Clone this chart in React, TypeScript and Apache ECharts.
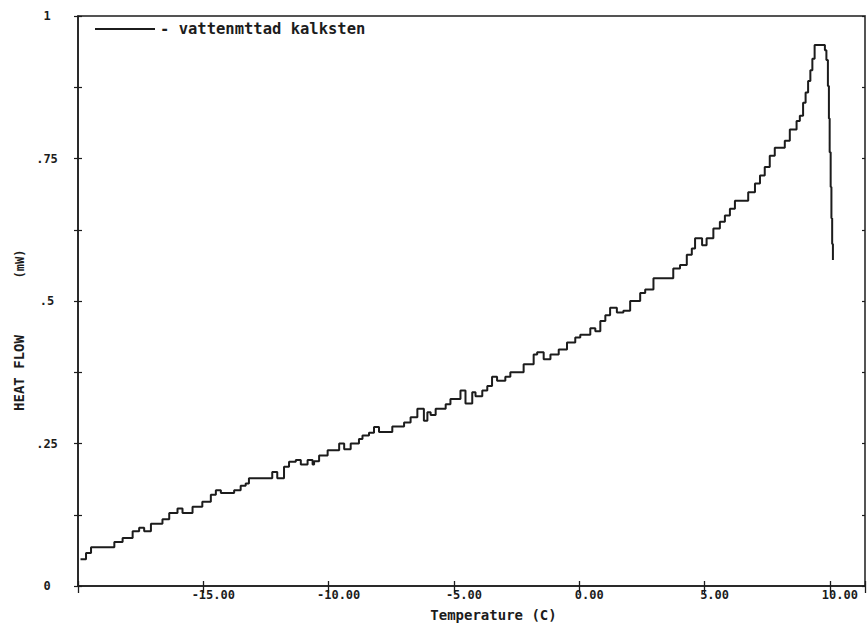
import React, { useEffect, useRef } from "react";
import * as echarts from "echarts";

// Step positions (°C) and the heat-flow level (mW) reached at each step
const tempC = [
  -19.9, -19.68, -19.48, -18.55, -18.22, -17.82, -17.56, -17.36, -17.09, -16.63,
  -16.36, -16.03, -15.83, -15.43, -15.04, -14.7, -14.5, -14.3, -13.77, -13.51,
  -13.31, -13.18, -12.25, -12.05, -11.78, -11.58, -11.31, -11.11, -10.84, -10.64,
  -10.58, -10.38, -10.04, -9.58, -9.38, -9.12, -8.79, -8.65, -8.39, -8.19,
  -7.99, -7.46, -6.99, -6.73, -6.46, -6.2, -6.06, -5.93, -5.73, -5.33,
  -5.14, -4.74, -4.54, -4.27, -4.14, -3.87, -3.67, -3.48, -3.28, -2.95,
  -2.75, -2.22, -1.82, -1.68, -1.42, -1.15, -0.82, -0.49, -0.16, 0.04,
  0.44, 0.64, 0.84, 1.04, 1.23, 1.5, 1.76, 2.03, 2.43, 2.63,
  2.96, 3.75, 4.02, 4.29, 4.49, 4.62, 4.9, 5.08, 5.35, 5.61,
  5.81, 6.01, 6.21, 6.74, 7.01, 7.21, 7.4, 7.6, 7.8, 8.2,
  8.4, 8.67, 8.8, 8.93, 9.03, 9.13, 9.22, 9.3, 9.39, 9.73,
  9.8, 9.86, 9.92, 9.96, 9.99, 10.03, 10.06, 10.09, 10.12,
];
const heatFlow = [
  0.047, 0.058, 0.068, 0.077, 0.084, 0.096, 0.102, 0.096, 0.109, 0.117,
  0.128, 0.136, 0.128, 0.139, 0.148, 0.16, 0.168, 0.163, 0.168, 0.176,
  0.18, 0.189, 0.2, 0.189, 0.209, 0.218, 0.221, 0.213, 0.221, 0.213,
  0.219, 0.229, 0.238, 0.25, 0.24, 0.25, 0.258, 0.264, 0.269, 0.279,
  0.27, 0.28, 0.287, 0.296, 0.311, 0.29, 0.305, 0.3, 0.311, 0.319,
  0.328, 0.343, 0.32, 0.34, 0.333, 0.343, 0.351, 0.367, 0.36, 0.367,
  0.375, 0.389, 0.406, 0.41, 0.398, 0.406, 0.415, 0.427, 0.436, 0.441,
  0.452, 0.447, 0.465, 0.475, 0.488, 0.48, 0.483, 0.5, 0.514, 0.52,
  0.54, 0.557, 0.563, 0.581, 0.592, 0.61, 0.598, 0.61, 0.627, 0.639,
  0.65, 0.662, 0.676, 0.691, 0.706, 0.72, 0.735, 0.755, 0.769, 0.781,
  0.801, 0.816, 0.825, 0.848, 0.866, 0.886, 0.905, 0.925, 0.949, 0.949,
  0.94, 0.923, 0.877, 0.82, 0.761, 0.7, 0.645, 0.6, 0.572,
];

const seriesName = "vattenmttad kalksten";
const xTickLabels = [-15, -10, -5, 0, 5, 10];
const yTickLabels: Record<string, string> = { "0": "0", "0.25": ".25", "0.5": ".5", "0.75": ".75", "1": "1" };

const ink = "#1c1c1c";
const mono = "'DejaVu Sans Mono', 'Liberation Mono', monospace";

export default function App() {
  const ref = useRef<HTMLDivElement>(null);

  useEffect(() => {
    if (!ref.current) return;
    const chart = echarts.init(ref.current, null, { renderer: "svg" });
    const data = tempC.map((t, i) => [t, heatFlow[i]]);

    const xRange = { min: -20, max: 11.4, interval: 5 };
    const yRange = { min: 0, max: 1, interval: 0.125 };

    chart.setOption({
      animation: false,
      backgroundColor: "#ffffff",
      textStyle: { fontFamily: mono, color: ink },
      grid: {
        left: 78,
        right: 2,
        top: 16,
        bottom: 37,
        show: true,
        borderColor: ink,
        borderWidth: 1.5,
        backgroundColor: "transparent",
      },
      legend: {
        left: 95,
        top: 20,
        padding: 0,
        itemWidth: 60,
        itemHeight: 2,
        itemGap: 5,
        formatter: (name: string) => "- " + name,
        textStyle: { fontFamily: mono, fontSize: 15.5, fontWeight: "bold", color: ink, lineHeight: 18 },
        data: [{ name: seriesName, icon: "rect", itemStyle: { color: ink } }],
        itemStyle: { color: ink },
        selectedMode: false,
      },
      xAxis: [
        {
          type: "value",
          ...xRange,
          position: "bottom",
          axisLine: { show: true, onZero: false, lineStyle: { color: ink, width: 1.5 } },
          axisTick: { show: true, length: 7, lineStyle: { color: ink, width: 1.3 } },
          splitLine: { show: false },
          axisLabel: {
            margin: 3,
            fontFamily: mono,
            fontSize: 12,
            fontWeight: "bold",
            color: ink,
            align: "center",
            padding: [0, 0, 0, 20],
            formatter: (v: number) => (xTickLabels.includes(Math.round(v * 100) / 100) ? v.toFixed(2) : ""),
          },
          name: "Temperature (C)",
          nameLocation: "middle",
          nameGap: 22,
          nameTextStyle: { fontFamily: mono, fontSize: 14, fontWeight: "bold", color: ink, padding: [0, 0, 0, 44] },
        },
        {
          type: "value",
          ...xRange,
          position: "bottom",
          axisLine: { show: false, onZero: false },
          axisTick: { show: true, inside: true, length: 5, lineStyle: { color: ink, width: 1.3 } },
          axisLabel: { show: false },
          splitLine: { show: false },
        },
      ],
      yAxis: [
        {
          type: "value",
          ...yRange,
          position: "left",
          axisLine: { show: true, onZero: false, lineStyle: { color: ink, width: 1.5 } },
          axisTick: { show: true, length: 4, lineStyle: { color: ink, width: 1.2 } },
          splitLine: { show: false },
          axisLabel: {
            margin: 31,
            align: "center",
            fontFamily: mono,
            fontSize: 12,
            fontWeight: "bold",
            color: ink,
            formatter: (v: number) => yTickLabels[String(Math.round(v * 1000) / 1000)] ?? "",
          },
        },
        {
          type: "value",
          ...yRange,
          position: "left",
          axisLine: { show: false, onZero: false },
          axisTick: { show: true, inside: true, length: 4, lineStyle: { color: ink, width: 1.2 } },
          axisLabel: { show: false },
          splitLine: { show: false },
        },
        {
          type: "value",
          ...yRange,
          position: "right",
          axisLine: { show: true, onZero: false, lineStyle: { color: "#555", width: 1 } },
          axisTick: { show: true, inside: true, length: 3, lineStyle: { color: ink, width: 1.2 } },
          axisLabel: { show: false },
          splitLine: { show: false },
        },
      ],
      graphic: [
        {
          type: "text",
          x: 19,
          y: 373,
          rotation: Math.PI / 2,
          style: { text: "HEAT FLOW", fontFamily: mono, fontSize: 14, fontWeight: "bold", fill: ink, align: "center", verticalAlign: "middle" },
        },
        {
          type: "text",
          x: 20,
          y: 264,
          rotation: Math.PI / 2,
          style: { text: "(mW)", fontFamily: mono, fontSize: 12, fontWeight: "bold", fill: ink, align: "center", verticalAlign: "middle" },
        },
      ],
      series: [
        {
          name: seriesName,
          type: "line",
          xAxisIndex: 0,
          yAxisIndex: 0,
          step: "end",
          data,
          symbol: "none",
          showSymbol: false,
          lineStyle: { color: ink, width: 2 },
          itemStyle: { color: ink },
        },
      ],
    });

    return () => chart.dispose();
  }, []);

  return <div ref={ref} style={{ width: 868, height: 627, position: "absolute", left: 0, top: 0 }} />;
}
